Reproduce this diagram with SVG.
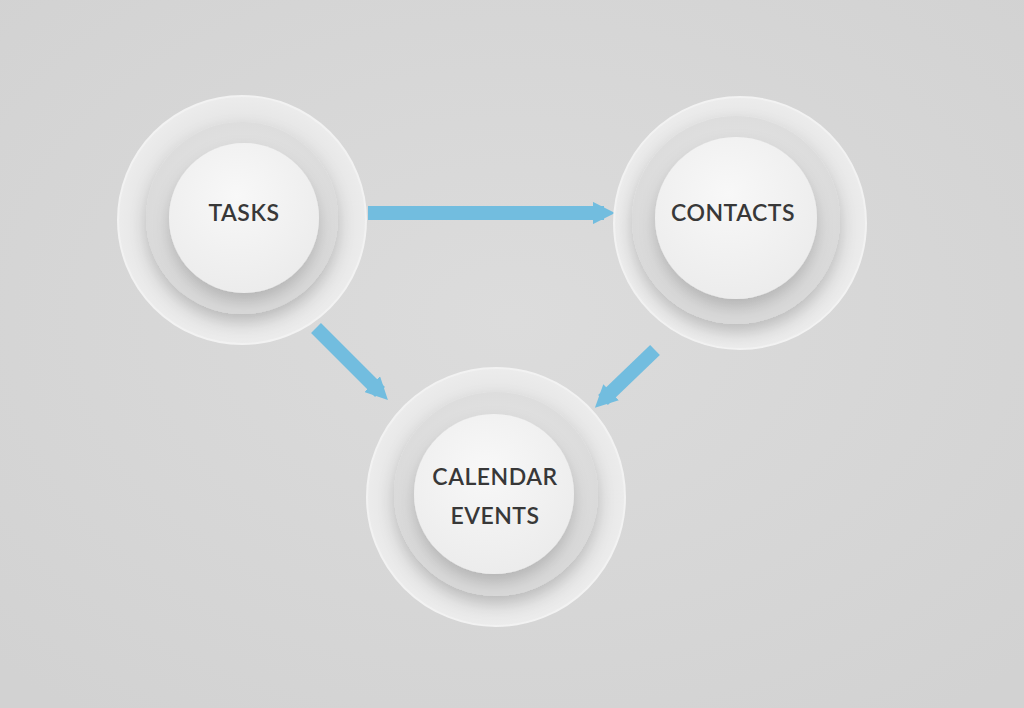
<svg xmlns="http://www.w3.org/2000/svg" width="1024" height="708" viewBox="0 0 1024 708">
<defs>
<radialGradient id="bg" cx="50%" cy="45%" r="70%"><stop offset="0" stop-color="#dcdcdc"/><stop offset="1" stop-color="#d2d2d2"/></radialGradient>
<radialGradient id="outer" cx="50%" cy="50%" r="50%"><stop offset="0.75" stop-color="#e4e4e4"/><stop offset="1" stop-color="#ececec"/></radialGradient>
<radialGradient id="mid" cx="50%" cy="40%" r="55%"><stop offset="0" stop-color="#e8e8e8"/><stop offset="1" stop-color="#d9d9d9"/></radialGradient>
<radialGradient id="inner" cx="45%" cy="35%" r="65%"><stop offset="0" stop-color="#f8f8f8"/><stop offset="1" stop-color="#ececec"/></radialGradient>
<filter id="sh" x="-30%" y="-30%" width="160%" height="170%"><feDropShadow dx="0" dy="8" stdDeviation="8" flood-color="#000" flood-opacity="0.18"/></filter>
<marker id="ah" viewBox="0 0 10 10" refX="5" refY="5" markerWidth="1.6" markerHeight="1.6" orient="auto"><path d="M0,0 L10,5 L0,10 z" fill="#72bddf"/></marker>
</defs>
<style>
.o{fill:url(#outer);stroke:#f2f2f2;stroke-width:2}
.m{fill:url(#mid);filter:url(#sh)}
.i{fill:url(#inner);filter:url(#sh)}
.t{font-family:Lato,"Liberation Sans",sans-serif;font-size:23px;font-weight:600;fill:#383838;text-anchor:middle;letter-spacing:0.5px}
.c{stroke:#72bddf;stroke-width:14;fill:none;marker-end:url(#ah)}
</style>
<rect width="1024" height="708" fill="url(#bg)"/>
<g id="connectors">
<line class="c" x1="368" y1="213" x2="604" y2="213"/>
<line class="c" x1="316" y1="328" x2="380" y2="392"/>
<line class="c" x1="655" y1="350" x2="603" y2="400"/>
</g>
<g id="tasks">
<circle class="o" cx="242" cy="220" r="124"/>
<circle class="m" cx="242" cy="218" r="96"/>
<circle class="i" cx="244" cy="218" r="75"/>
<text class="t" x="244" y="221">TASKS</text>
</g>
<g id="contacts">
<circle class="o" cx="740" cy="223" r="126"/>
<circle class="m" cx="736" cy="220" r="104"/>
<circle class="i" cx="736" cy="218" r="81"/>
<text class="t" x="733" y="221">CONTACTS</text>
</g>
<g id="calendar">
<circle class="o" cx="496" cy="497" r="129"/>
<circle class="m" cx="496" cy="494" r="102"/>
<circle class="i" cx="494" cy="494" r="80"/>
<text class="t" x="495" y="485">CALENDAR</text>
<text class="t" x="495" y="524">EVENTS</text>
</g>
</svg>
